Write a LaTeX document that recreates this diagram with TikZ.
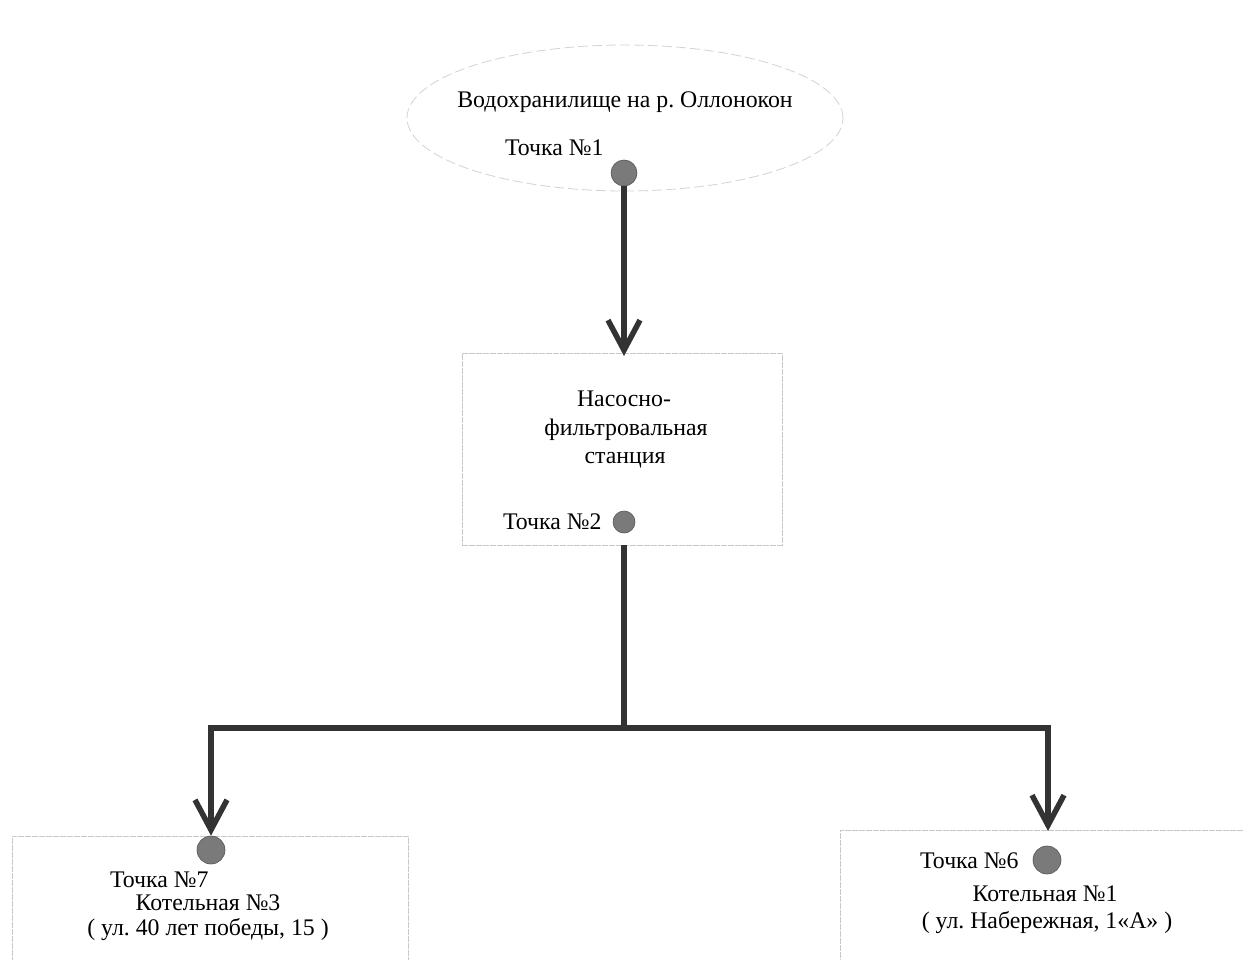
\documentclass[tikz,border=0pt]{standalone}
\usepackage{fontspec}
\setmainfont{Liberation Serif}
\usetikzlibrary{arrows.meta,shapes.geometric}
\frenchspacing
\definecolor{linec}{HTML}{333333}
\definecolor{dotc}{HTML}{7a7a7a}
\definecolor{framec}{HTML}{c8c8c8}
\tikzset{
  txt/.style={inner sep=0pt, font=\fontsize{23.8}{28.5}\selectfont, text=black},
  pt/.style={circle, fill=dotc, draw=dotc!70!black, line width=0.6pt, minimum size=#1, inner sep=0pt},
  frame/.style={draw=framec, line width=0.8pt, dash pattern=on 6pt off 1pt},
  flow/.style={draw=linec, line width=5.5pt},
  flowarrow/.style={flow, -{Straight Barb[length=30pt,width=32pt]}},
}
\begin{document}
\begin{tikzpicture}[x=1pt,y=-1pt]
\clip (0,0) rectangle (1244,960);
\fill[white] (0,0) rectangle (1244,960);
% reservoir
\node[ellipse, frame, draw=framec!80, dash pattern=on 10pt off 4pt, minimum width=436pt, minimum height=146pt] (res) at (625,118) {};
\node[txt, anchor=base] (resl) at (625,108) {Водохранилище на р. Оллонокон};
\node[txt, anchor=base west] (p1l) at (505,156) {Точка №1};
\node[pt=26pt] (p1) at (624,173) {};
% pumping station
\node[frame, minimum width=320pt, minimum height=192pt, inner sep=0pt] (nfs) at (622,449) {};
\node[txt, anchor=base] (nfs1) at (624,406) {Насосно-};
\node[txt, anchor=base] (nfs2) at (626,435) {фильтровальная};
\node[txt, anchor=base] (nfs3) at (625,463) {станция};
\node[txt, anchor=base west] (p2l) at (503,529) {Точка №2};
\node[pt=22pt] (p2) at (624,522) {};
% boiler 3
\node[frame, minimum width=396pt, minimum height=200pt, inner sep=0pt, anchor=north west] (k3) at (12,836) {};
\node[pt=28pt] (p7) at (211,850) {};
\node[txt, anchor=base west] (p7l) at (110,887) {Точка №7};
\node[txt, anchor=base] (k3a) at (208,910) {Котельная №3};
\node[txt, anchor=base] (k3b) at (208,935) {( ул. 40 лет победы, 15 )};
% boiler 1
\node[frame, minimum width=420pt, minimum height=200pt, inner sep=0pt, anchor=north west] (k1) at (840,830) {};
\node[txt, anchor=base west] (p6l) at (920,868) {Точка №6};
\node[pt=28pt] (p6) at (1047,860) {};
\node[txt, anchor=base] (k1a) at (1045,901) {Котельная №1};
\node[txt, anchor=base] (k1b) at (1047,928) {( ул. Набережная, 1«А» )};
% connectors
\coordinate (j) at (624,728);
\coordinate (jl) at (211,728);
\coordinate (jr) at (1048,728);
\draw[flowarrow] (p1.south) -- (624,356);
\draw[flow] (p2.south) ++(0,12) -- (j);
\draw[flow, line cap=rect] (jl) -- (jr);
\draw[flowarrow] (jl) -- (p7.north);
\draw[flowarrow] (jr) -- (1048,831);
\end{tikzpicture}
\end{document}
